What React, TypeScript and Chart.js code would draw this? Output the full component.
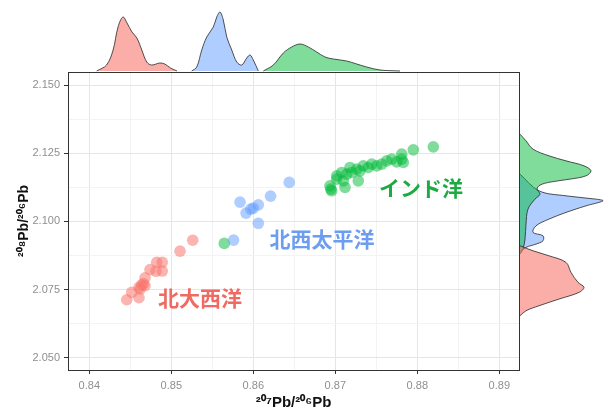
import React, { useEffect, useRef } from "react";
import { Chart, registerables } from "chart.js";

Chart.register(...registerables);

// ---- scatter data (207Pb/206Pb, 208Pb/206Pb) ----
const naX = [0.84456, 0.84517, 0.84606, 0.84606, 0.84639, 0.84679, 0.84679, 0.8474, 0.84813, 0.84822, 0.8489, 0.8489, 0.85106, 0.85261, 0.8462, 0.8466];
const naY = [2.07126, 2.07397, 2.072, 2.0758, 2.0767, 2.0764, 2.0793, 2.0823, 2.0817, 2.085, 2.085, 2.0818, 2.0891, 2.0931, 2.0752, 2.0772];

const nwpX = [0.85838, 0.85911, 0.85968, 0.86, 0.86061, 0.86061, 0.8621, 0.86438, 0.85759];
const nwpY = [2.10707, 2.10304, 2.10451, 2.10488, 2.10608, 2.0993, 2.10927, 2.1143, 2.09315];

const ioX = [0.85646, 0.86956, 0.86935, 0.87017, 0.87078, 0.87118, 0.87179, 0.87261, 0.8728, 0.87341, 0.87402, 0.87444, 0.87566, 0.87627, 0.87688, 0.87749, 0.8781, 0.8781, 0.87829, 0.87951, 0.88195, 0.87017, 0.87098, 0.87139, 0.872, 0.87301, 0.87505, 0.86944];
const ioY = [2.09194, 2.11122, 2.11305, 2.11672, 2.11796, 2.11246, 2.1198, 2.11917, 2.11488, 2.12038, 2.1198, 2.121, 2.121, 2.12221, 2.12284, 2.12185, 2.12284, 2.12467, 2.12163, 2.12625, 2.12735, 2.1155, 2.11488, 2.11734, 2.11796, 2.11855, 2.12038, 2.11184];

// ---- top marginal densities (x value, height) ----
const topNaX = [0.8409, 0.8421, 0.8429, 0.8435, 0.8441, 0.8446, 0.8452, 0.8458, 0.8464, 0.847, 0.8476, 0.8486, 0.8492, 0.8499, 0.8507];
const topNaD = [0, 6, 21, 44, 54, 48, 39, 33, 21, 9, 6, 8, 7, 3, 0];
const topNwpX = [0.85249, 0.8531, 0.85371, 0.85432, 0.85512, 0.85554, 0.85594, 0.85634, 0.85676, 0.85737, 0.85798, 0.85859, 0.8592, 0.8596, 0.86, 0.86061];
const topNwpD = [0, 4, 21, 34, 44, 54, 59, 51, 34, 21, 9, 6, 13, 16, 11, 0];
const topIoX = [0.86122, 0.86244, 0.86366, 0.86468, 0.8657, 0.86671, 0.86773, 0.86874, 0.86976, 0.87139, 0.87261, 0.87383, 0.87545, 0.87789];
const topIoD = [0, 6, 18, 24, 27, 24, 19, 14, 12, 10, 7, 4, 1, 0];

// ---- right marginal densities (y value, height) ----
const rightNaY = [2.09106, 2.08922, 2.08739, 2.08497, 2.0813, 2.07764, 2.07581, 2.07397, 2.07152, 2.06906, 2.06723, 2.0654];
const rightNaD = [0, 13, 29, 46, 51, 58, 64, 59, 39, 19, 6, 0];
const rightNwpY = [2.11734, 2.11122, 2.10938, 2.10817, 2.10755, 2.10572, 2.1033, 2.10084, 2.09839, 2.09597, 2.09472, 2.09289, 2.09168, 2.09047, 2.08864];
const rightNwpD = [0, 19, 46, 76, 83, 66, 46, 29, 16, 13, 23, 23, 16, 6, 0];
const rightIoY = [2.132, 2.12955, 2.12651, 2.12405, 2.12221, 2.12038, 2.11855, 2.11672, 2.11551, 2.11441, 2.11331, 2.11184, 2.11, 2.10817, 2.10451, 2.09901, 2.09351, 2.08985, 2.08802];
const rightIoD = [0, 6, 13, 29, 46, 64, 71, 66, 50, 30, 20, 17, 20, 15, 8, 6, 5, 3, 0];

// ---- ticks ----
const xMajorTicks = [0.84, 0.85, 0.86, 0.87, 0.88, 0.89];
const xMinorTicks = [0.845, 0.855, 0.865, 0.875, 0.885];
const yMajorTicks = [2.05, 2.075, 2.1, 2.125, 2.15];
const yMinorTicks = [2.0625, 2.0875, 2.1125, 2.1375];

// ---- labels ----
const groupNames = ["北大西洋", "北西太平洋", "インド洋"];
const groupLabelX = [0.8535, 0.86838, 0.88045];
const groupLabelY = [2.0719, 2.0935, 2.1122];

const xTitle = "²⁰⁷Pb/²⁰⁶Pb";
const yTitle = "²⁰⁸Pb/²⁰⁶Pb";

const X_MIN = 0.8374;
const X_MAX = 0.8924;
const Y_MIN = 2.0455;
const Y_MAX = 2.1548;

const pointColors = ["rgba(248,118,109,0.55)", "rgba(97,156,255,0.5)", "rgba(0,186,56,0.5)"];
const fillColors = ["rgba(248,118,109,0.6)", "rgba(97,156,255,0.5)", "rgba(0,186,56,0.5)"];
const labelColors = ["#EE6A62", "#6C9DF0", "#1DAA42"];

const zip = (a: number[], b: number[]) => a.map((v, i) => ({ x: v, y: b[i] }));

const near = (v: number, arr: number[]) => arr.some((t) => Math.abs(t - v) < 1e-6);

const framePlugin = {
  id: "frame",
  afterDraw(chart: any) {
    const { ctx, chartArea } = chart;
    ctx.save();
    ctx.strokeStyle = "#333";
    ctx.lineWidth = 1;
    ctx.strokeRect(
      Math.round(chartArea.left) + 0.5,
      Math.round(chartArea.top) + 0.5,
      Math.round(chartArea.right - chartArea.left),
      Math.round(chartArea.bottom - chartArea.top)
    );
    ctx.restore();
  },
};

const labelPlugin = {
  id: "groupLabels",
  afterDatasetsDraw(chart: any) {
    const { ctx } = chart;
    const xs = chart.scales.x;
    const ys = chart.scales.y;
    ctx.save();
    ctx.font = 'bold 21px "Noto Sans CJK JP", sans-serif';
    ctx.textAlign = "center";
    ctx.textBaseline = "middle";
    groupNames.forEach((name, i) => {
      ctx.fillStyle = labelColors[i];
      ctx.fillText(name, xs.getPixelForValue(groupLabelX[i]), ys.getPixelForValue(groupLabelY[i]));
    });
    ctx.restore();
  },
};

export default function App() {
  const mainRef = useRef<HTMLCanvasElement>(null);
  const topRef = useRef<HTMLCanvasElement>(null);
  const rightRef = useRef<HTMLCanvasElement>(null);

  useEffect(() => {
    const tickFont = { family: '"Liberation Sans", Arial, sans-serif', size: 11 };
    const xAll = [...xMajorTicks, ...xMinorTicks].sort((a, b) => a - b);
    const yAll = [...yMajorTicks, ...yMinorTicks].sort((a, b) => a - b);
    const main = new Chart(mainRef.current!, {
      type: "scatter",
      data: {
        datasets: [
          { data: zip(naX, naY), backgroundColor: pointColors[0], borderWidth: 0, pointRadius: 5.8 },
          { data: zip(nwpX, nwpY), backgroundColor: pointColors[1], borderWidth: 0, pointRadius: 5.8 },
          { data: zip(ioX, ioY), backgroundColor: pointColors[2], borderWidth: 0, pointRadius: 5.8 },
        ],
      },
      options: {
        animation: false,
        responsive: false,
        events: [],
        layout: { padding: { top: 72, right: 85, left: 0, bottom: 0 } },
        plugins: { legend: { display: false }, tooltip: { enabled: false } },
        scales: {
          x: {
            type: "linear",
            min: X_MIN,
            max: X_MAX,
            afterBuildTicks: (s: any) => { s.ticks = xAll.map((v) => ({ value: v })); },
            afterFit: (s: any) => { s.height = 40; },
            ticks: {
              autoSkip: false,
              maxRotation: 0,
              minRotation: 0,
              padding: 5,
              color: "#8F8F8F",
              font: tickFont,
              callback: (v: any) => (near(Number(v), xMajorTicks) ? Number(v).toFixed(2) : ""),
            },
            grid: {
              color: (c: any) => (c.tick && near(c.tick.value, xMajorTicks) ? "#E6E6E6" : "#F3F3F3"),
              tickColor: (c: any) => (c.tick && near(c.tick.value, xMajorTicks) ? "#333" : "rgba(0,0,0,0)"),
              tickLength: 4,
            },
            border: { display: true, color: "#333" },
            title: {
              display: true,
              text: xTitle,
              color: "#111",
              font: { family: '"Liberation Sans", Arial, sans-serif', size: 15, weight: "bold", lineHeight: 1 },
              padding: { top: 0, bottom: 0 },
            },
          },
          y: {
            type: "linear",
            min: Y_MIN,
            max: Y_MAX,
            afterBuildTicks: (s: any) => { s.ticks = yAll.map((v) => ({ value: v })); },
            afterFit: (s: any) => { s.width = 68; },
            ticks: {
              autoSkip: false,
              padding: 4,
              color: "#8F8F8F",
              font: tickFont,
              callback: (v: any) => (near(Number(v), yMajorTicks) ? Number(v).toFixed(3) : ""),
            },
            grid: {
              color: (c: any) => (c.tick && near(c.tick.value, yMajorTicks) ? "#E6E6E6" : "#F3F3F3"),
              tickColor: (c: any) => (c.tick && near(c.tick.value, yMajorTicks) ? "#333" : "rgba(0,0,0,0)"),
              tickLength: 4,
            },
            border: { display: true, color: "#333" },
            title: {
              display: true,
              text: yTitle,
              color: "#111",
              font: { family: '"Liberation Sans", Arial, sans-serif', size: 14, weight: "bold" },
              padding: { top: 16, bottom: 0 },
            },
          },
        },
      },
      plugins: [framePlugin, labelPlugin],
    } as any);

    const densDs = (pts: any[], i: number) => ({
      data: pts,
      showLine: true,
      fill: "shape",
      backgroundColor: fillColors[i],
      borderColor: "rgba(40,40,40,0.8)",
      borderWidth: 1,
      pointRadius: 0,
      tension: 0.35,
    });

    const top = new Chart(topRef.current!, {
      type: "scatter",
      data: {
        datasets: [
          densDs(zip(topNaX, topNaD), 0),
          densDs(zip(topNwpX, topNwpD), 1),
          densDs(zip(topIoX, topIoD), 2),
        ],
      },
      options: {
        animation: false,
        responsive: false,
        events: [],
        layout: { padding: 0 },
        plugins: { legend: { display: false }, tooltip: { enabled: false } },
        scales: {
          x: { type: "linear", min: X_MIN, max: X_MAX, display: false },
          y: { type: "linear", min: -1, max: 71, display: false },
        },
      },
    } as any);

    const right = new Chart(rightRef.current!, {
      type: "scatter",
      data: {
        datasets: [
          densDs(zip(rightNaD, rightNaY), 0),
          densDs(zip(rightIoD, rightIoY), 2),
          densDs(zip(rightNwpD, rightNwpY), 1),
        ],
      },
      options: {
        animation: false,
        responsive: false,
        events: [],
        layout: { padding: 0 },
        plugins: { legend: { display: false }, tooltip: { enabled: false } },
        scales: {
          x: { type: "linear", min: -1, max: 84, display: false },
          y: { type: "linear", min: Y_MIN, max: Y_MAX, display: false },
        },
      },
    } as any);

    return () => {
      main.destroy();
      top.destroy();
      right.destroy();
    };
  }, []);

  return (
    <div style={{ position: "fixed", left: 0, top: 0, width: 604, height: 410, background: "#fff" }}>
      <canvas ref={mainRef} width={604} height={410} style={{ position: "absolute", left: 0, top: 0 }} />
      <canvas ref={topRef} width={451} height={72} style={{ position: "absolute", left: 68, top: 0 }} />
      <canvas ref={rightRef} width={85} height={298} style={{ position: "absolute", left: 519, top: 72 }} />
    </div>
  );
}
